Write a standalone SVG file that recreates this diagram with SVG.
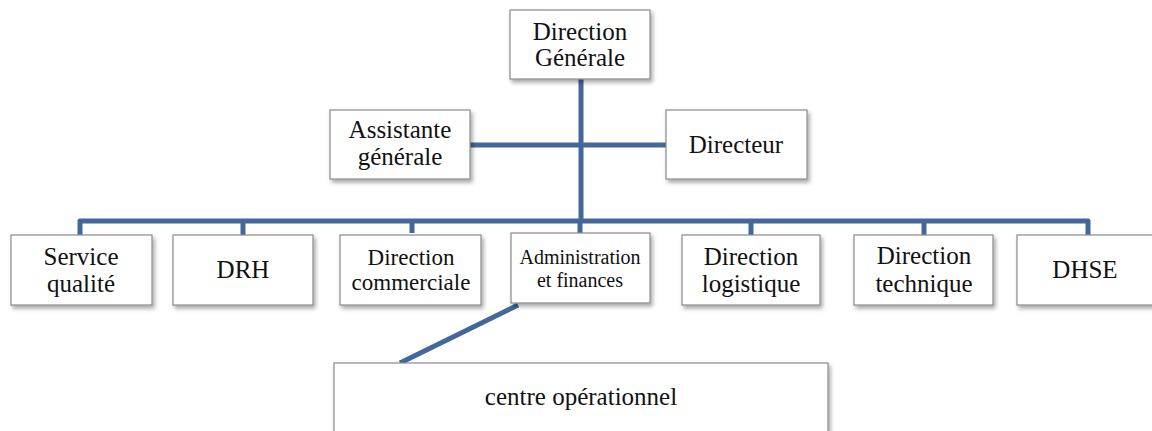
<svg xmlns="http://www.w3.org/2000/svg" width="1152" height="431" viewBox="0 0 1152 431">
<style>
.box{fill:#fff;stroke:#8a8a8a;stroke-width:1.2;filter:url(#sh)}
.t{fill:#111;text-anchor:middle;font-size:25px}
.c{stroke:#44679a;stroke-width:5;fill:none;stroke-linejoin:round}
</style>
<defs>
<filter id="sh" x="-10%" y="-10%" width="130%" height="140%">
<feDropShadow dx="2" dy="3" stdDeviation="2" flood-color="#000" flood-opacity="0.35"/>
</filter>
</defs>
<rect width="1152" height="431" fill="#fff"/>
<g id="connectors">
<path class="c" d="M581 79V221"/>
<path class="c" d="M470 145H666"/>
<path class="c" d="M80 235V221H1088V235"/>
<path class="c" d="M243 221V235M412 221V233M580 221V233M751 221V235M924 221V235"/>
<path class="c" d="M518 305L400 363"/>
</g>
<g font-family="Liberation Serif, Times New Roman, serif">
<g id="direction-generale">
<rect class="box" x="510" y="10" width="140" height="69"/>
<text class="t" x="580" y="40">Direction</text>
<text class="t" x="580" y="66">Générale</text>
</g>
<g id="assistante-generale">
<rect class="box" x="330" y="110" width="140" height="69"/>
<text class="t" x="400" y="138">Assistante</text>
<text class="t" x="400" y="165">générale</text>
</g>
<g id="directeur">
<rect class="box" x="666" y="110" width="141" height="69"/>
<text class="t" x="736" y="153">Directeur</text>
</g>
<g id="service-qualite">
<rect class="box" x="11" y="235" width="141" height="70"/>
<text class="t" x="81" y="265">Service</text>
<text class="t" x="81" y="292">qualité</text>
</g>
<g id="drh">
<rect class="box" x="173" y="235" width="140" height="70"/>
<text class="t" x="243" y="278">DRH</text>
</g>
<g id="direction-commerciale">
<rect class="box" x="340" y="235" width="141" height="70"/>
<text class="t" x="411" y="265" style="font-size:23px">Direction</text>
<text class="t" x="411" y="290" style="font-size:23px">commerciale</text>
</g>
<g id="administration-finances">
<rect class="box" x="511" y="233" width="139" height="70"/>
<text class="t" x="580" y="264" style="font-size:20px">Administration</text>
<text class="t" x="580" y="287" style="font-size:20px">et finances</text>
</g>
<g id="direction-logistique">
<rect class="box" x="682" y="235" width="138" height="70"/>
<text class="t" x="751" y="265">Direction</text>
<text class="t" x="751" y="292">logistique</text>
</g>
<g id="direction-technique">
<rect class="box" x="854" y="235" width="139" height="70"/>
<text class="t" x="924" y="264">Direction</text>
<text class="t" x="924" y="292">technique</text>
</g>
<g id="dhse">
<rect class="box" x="1017" y="235" width="138" height="70"/>
<text class="t" x="1085" y="278">DHSE</text>
</g>
<g id="centre-operationnel">
<rect class="box" x="334" y="363" width="494" height="80"/>
<text class="t" x="581" y="405">centre opérationnel</text>
</g>
</g>
</svg>
